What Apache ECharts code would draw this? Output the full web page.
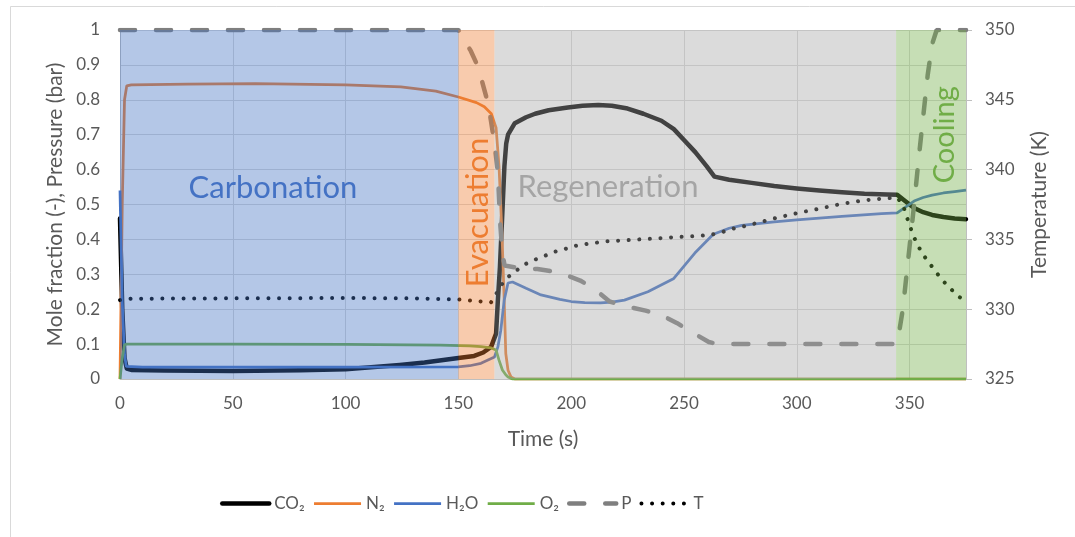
<!DOCTYPE html>
<html>
<head>
<meta charset="utf-8">
<script src="https://cdn.jsdelivr.net/npm/echarts@6/dist/echarts.min.js"></script>
<style>
html,body{margin:0;padding:0;background:#fff;}
#chart{width:1075px;height:537px;}
</style>
</head>
<body>
<div id="chart"></div>
<script>
// ---------- data ----------
const xTicks = [0, 50, 100, 150, 200, 250, 300, 350];
const seriesNames = ['CO\u2082', 'N\u2082', 'H\u2082O', 'O\u2082', 'P', 'T'];

const co2 = [[0,0.46],[1,0.2],[2,0.06],[3,0.03],[5,0.026],[20,0.024],[50,0.023],[80,0.025],[100,0.028],[124,0.04],[135,0.047],[150,0.06],[157,0.066],[161,0.076],[164.5,0.092],[166.7,0.13],[167.5,0.226],[168.4,0.32],[169.3,0.45],[170.4,0.61],[171.2,0.675],[172,0.70],[175,0.733],[180,0.75],[184,0.76],[190,0.77],[198.5,0.778],[205,0.783],[212,0.785],[218,0.783],[225,0.775],[232,0.76],[240,0.74],[245.5,0.716],[250,0.685],[255,0.65],[260,0.61],[263.5,0.58],[270,0.571],[280,0.562],[290,0.553],[300,0.546],[310,0.54],[320,0.535],[330,0.531],[340,0.529],[344.5,0.528],[348,0.51],[352,0.49],[356,0.478],[360,0.47],[365,0.464],[370,0.46],[375,0.458]];
const n2 = [[0,0],[1,0.5],[2,0.8],[3,0.84],[5,0.843],[30,0.845],[60,0.846],[100,0.843],[124.5,0.837],[140,0.825],[150,0.808],[158,0.792],[161.5,0.78],[164.6,0.76],[166.7,0.72],[168,0.61],[169.3,0.42],[170.3,0.226],[171,0.073],[172,0.025],[173.3,0.006],[175,0],[375,0]];
const h2o = [[0,0.54],[1,0.22],[2,0.07],[2.8,0.036],[10,0.034],[50,0.034],[100,0.034],[150,0.035],[155,0.038],[160,0.045],[166,0.063],[167.5,0.092],[168.8,0.14],[170.3,0.226],[172,0.275],[174,0.278],[180,0.26],[186.6,0.241],[195,0.228],[200,0.222],[206,0.219],[213,0.218],[218,0.22],[223.6,0.226],[234,0.25],[245.3,0.287],[254.8,0.361],[263,0.415],[270,0.432],[275.6,0.44],[290,0.45],[300,0.456],[320,0.466],[337.6,0.474],[344.5,0.476],[348,0.492],[352,0.51],[356,0.52],[360,0.527],[365,0.533],[370,0.537],[375,0.541]];
const o2 = [[0,0],[1,0.06],[2,0.098],[3,0.1],[50,0.1],[100,0.099],[142,0.097],[155,0.095],[160,0.093],[164.5,0.089],[166.7,0.083],[168,0.054],[169.5,0.026],[171,0.012],[172,0.006],[174,0],[375,0]];
const pres = [[0,1],[150,1],[152.7,0.97],[155.5,0.94],[158.7,0.895],[162.3,0.81],[163.7,0.77],[166,0.675],[167.5,0.59],[168.5,0.45],[169.5,0.36],[170.5,0.325],[175,0.32],[185,0.315],[190,0.31],[196,0.302],[204,0.282],[210,0.26],[217,0.222],[225,0.207],[233,0.196],[240,0.183],[247,0.16],[254,0.132],[261,0.106],[265,0.1],[344.5,0.1],[347,0.2],[349,0.32],[350,0.38],[352,0.5],[354,0.63],[356,0.75],[358,0.87],[360,0.96],[362,1],[375,1]];
const temp = [[0,330.65],[5,330.75],[50,330.78],[100,330.8],[130,330.78],[150,330.7],[160,330.55],[164.5,330.5],[166.7,331.08],[169,331.73],[172,332.3],[175.6,332.75],[179,333.18],[183.6,333.53],[188,333.8],[192.3,334.1],[197,334.3],[201.5,334.53],[206,334.65],[210.6,334.75],[215.5,334.87],[220,334.9],[230,335.0],[239,335.08],[248,335.18],[257,335.25],[262,335.33],[266.6,335.5],[271,335.75],[275.6,335.9],[280,336.08],[290,336.5],[300,336.88],[310,337.2],[320,337.55],[330,337.8],[340,337.95],[344.5,338.0],[347,337.5],[350,336.0],[353,334.75],[356,333.9],[359,333.25],[362,332.6],[365,332.0],[368,331.5],[371,331.0],[375,330.55]];

const phaseNames = ['Carbonation', 'Evacuation', 'Regeneration', 'Cooling'];
const phaseStart = [0, 150, 166, 344];
const phaseEnd = [150, 166, 344, 375];

// ---------- styling / layout ----------
const phaseColors = ['#4472C4', '#ED7D31', '#A5A5A5', '#70AD47'];
const phaseLabelAnchor = [[67.8, 0.547, 0], [158.5, 0.477, 1], [216.3, 0.55, 0], [365.7, 0.70, 1]]; // [t, v, rotated]
const phaseLabelSize = [31, 31, 31, 29];
const FONT = 'Lato, "Open Sans", "Noto Sans", sans-serif';
const TXT = '#595959';

const chart = echarts.init(document.getElementById('chart'), null, {renderer: 'canvas'});

const phaseData = phaseNames.map((n, i) => [phaseStart[i], phaseEnd[i], i]);

const option = {
  animation: false,
  backgroundColor: '#fff',
  textStyle: {fontFamily: FONT},
  graphic: [{
    type: 'rect', left: 8, top: 4, z: -10, silent: true,
    shape: {width: 1100, height: 600},
    style: {fill: 'none', stroke: '#D9D9D9', lineWidth: 1}
  }],
  grid: {left: 120, right: 109, top: 30, bottom: 158, containLabel: false},
  legend: {
    left: 215, top: 490, itemWidth: 47, itemHeight: 14, itemGap: 8,
    itemStyle: {opacity: 0},
    lineStyle: {width: 'inherit'},
    textStyle: {color: TXT, fontSize: 17, fontFamily: FONT},
    data: seriesNames
  },
  xAxis: {
    type: 'value', min: 0, max: 375, interval: 50,
    name: 'Time (s)', nameLocation: 'middle', nameGap: 50,
    nameTextStyle: {color: TXT, fontSize: 21, fontFamily: FONT},
    axisLine: {show: true, lineStyle: {color: '#BFBFBF'}},
    axisTick: {show: false},
    axisLabel: {color: TXT, fontSize: 17, margin: 16, showMaxLabel: false,
      formatter: v => xTicks.indexOf(v) >= 0 ? String(v) : ''},
    splitLine: {show: true, lineStyle: {color: '#D9D9D9', width: 1}}
  },
  yAxis: [{
    type: 'value', min: 0, max: 1, interval: 0.1,
    name: 'Mole fraction (-), Pressure (bar)', nameLocation: 'middle', nameGap: 52,
    nameTextStyle: {color: TXT, fontSize: 21, fontFamily: FONT},
    axisLine: {show: true, lineStyle: {color: '#BFBFBF'}},
    axisTick: {show: false},
    axisLabel: {color: TXT, fontSize: 17, margin: 20, formatter: v => String(Math.round(v * 10) / 10)},
    splitLine: {show: true, lineStyle: {color: '#D9D9D9', width: 1}}
  }, {
    type: 'value', min: 325, max: 350, interval: 5, position: 'right',
    name: 'Temperature (K)', nameLocation: 'middle', nameGap: 63, nameRotate: 90,
    nameTextStyle: {color: TXT, fontSize: 21, fontFamily: FONT},
    axisLine: {show: true, lineStyle: {color: '#BFBFBF'}},
    axisTick: {show: true, length: 6, lineStyle: {color: '#BFBFBF'}},
    axisLabel: {color: TXT, fontSize: 17, margin: 19},
    splitLine: {show: false}
  }],
  series: [
    {name: seriesNames[0], type: 'line', data: co2, symbol: 'none', z: 3,
      lineStyle: {color: '#000000', width: 4.5, cap: 'round', join: 'round'}, itemStyle: {color: '#000000'}},
    {name: seriesNames[1], type: 'line', data: n2, symbol: 'none', z: 3,
      lineStyle: {color: '#ED7D31', width: 2.75}, itemStyle: {color: '#ED7D31'}},
    {name: seriesNames[2], type: 'line', data: h2o, symbol: 'none', z: 3,
      lineStyle: {color: '#4472C4', width: 2.75}, itemStyle: {color: '#4472C4'}},
    {name: seriesNames[3], type: 'line', data: o2, symbol: 'none', z: 3,
      lineStyle: {color: '#70AD47', width: 2.75}, itemStyle: {color: '#70AD47'}},
    {name: seriesNames[4], type: 'line', data: pres, symbol: 'none', z: 3,
      lineStyle: {color: '#7F7F7F', width: 4.5, type: [15, 21], cap: 'round'}, itemStyle: {color: '#7F7F7F'}},
    {name: seriesNames[5], type: 'line', data: temp, yAxisIndex: 1, symbol: 'none', z: 3,
      lineStyle: {color: '#000000', width: 4, type: [0.01, 10.6], cap: 'round'}, itemStyle: {color: '#000000'}},
    {
      type: 'custom', z: 10, silent: true, data: phaseData,
      encode: {x: [0, 1]},
      renderItem: (params, api) => {
        const i = api.value(2);
        const a = api.coord([api.value(0), 1]);
        const b = api.coord([api.value(1), 0]);
        const anc = phaseLabelAnchor[i];
        const p = api.coord([anc[0], anc[1]]);
        return {
          type: 'group',
          children: [
            {type: 'rect', shape: {x: a[0], y: a[1], width: b[0] - a[0], height: b[1] - a[1]},
              style: {fill: phaseColors[i], opacity: 0.4}},
            {type: 'text', x: p[0], y: p[1], rotation: anc[2] ? Math.PI / 2 : 0, z2: 100,
              style: {text: phaseNames[i], fill: phaseColors[i], fontSize: phaseLabelSize[i], fontFamily: FONT,
                align: 'center', verticalAlign: 'middle'}}
          ]
        };
      }
    }
  ]
};
chart.setOption(option);
</script>
</body>
</html>
